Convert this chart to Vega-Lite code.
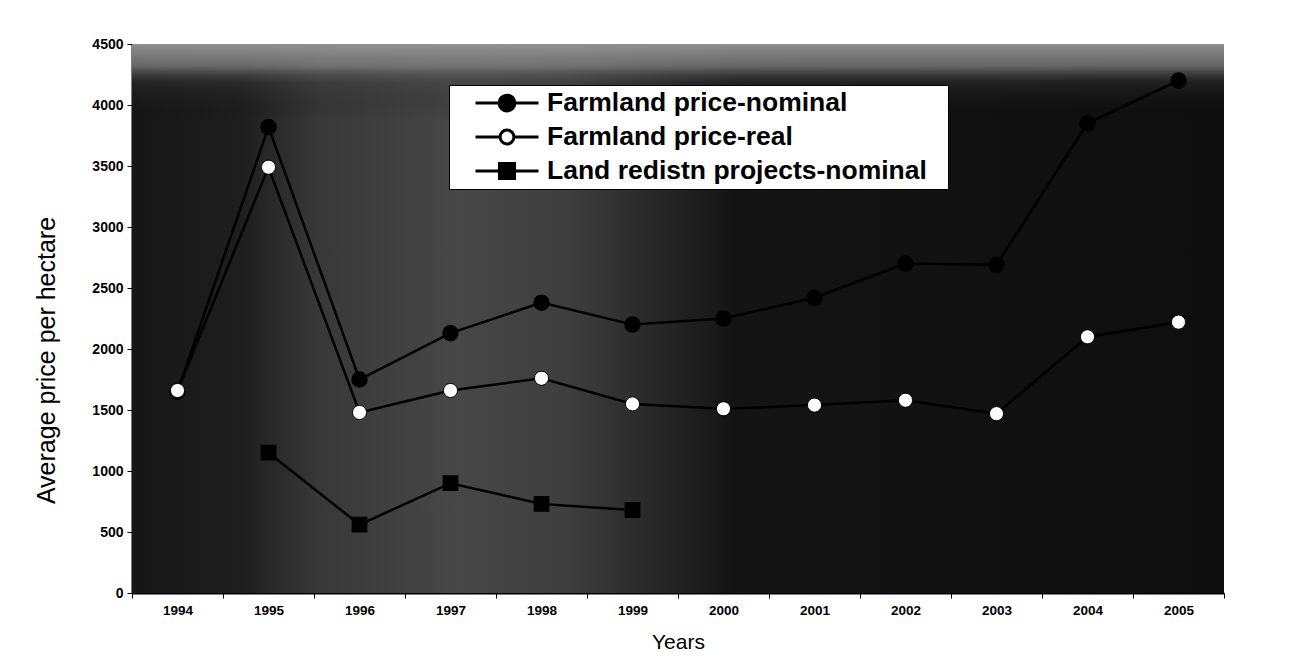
{
  "$schema": "https://vega.github.io/schema/vega-lite/v6.json",
  "width": 1092,
  "height": 549,
  "autosize": {"type": "none"},
  "padding": {"left": 132, "top": 44, "right": 78, "bottom": 73},
  "background": "white",
  "config": {"view": {"stroke": null}, "font": "Liberation Sans"},
  "data": {
    "values": [
      {"year": "1994", "series": "Farmland price-nominal", "value": 1650},
      {"year": "1995", "series": "Farmland price-nominal", "value": 3820},
      {"year": "1996", "series": "Farmland price-nominal", "value": 1750},
      {"year": "1997", "series": "Farmland price-nominal", "value": 2130},
      {"year": "1998", "series": "Farmland price-nominal", "value": 2380},
      {"year": "1999", "series": "Farmland price-nominal", "value": 2200},
      {"year": "2000", "series": "Farmland price-nominal", "value": 2250},
      {"year": "2001", "series": "Farmland price-nominal", "value": 2420},
      {"year": "2002", "series": "Farmland price-nominal", "value": 2700},
      {"year": "2003", "series": "Farmland price-nominal", "value": 2690},
      {"year": "2004", "series": "Farmland price-nominal", "value": 3850},
      {"year": "2005", "series": "Farmland price-nominal", "value": 4200},
      {"year": "1994", "series": "Farmland price-real", "value": 1660},
      {"year": "1995", "series": "Farmland price-real", "value": 3490},
      {"year": "1996", "series": "Farmland price-real", "value": 1480},
      {"year": "1997", "series": "Farmland price-real", "value": 1660},
      {"year": "1998", "series": "Farmland price-real", "value": 1760},
      {"year": "1999", "series": "Farmland price-real", "value": 1550},
      {"year": "2000", "series": "Farmland price-real", "value": 1510},
      {"year": "2001", "series": "Farmland price-real", "value": 1540},
      {"year": "2002", "series": "Farmland price-real", "value": 1580},
      {"year": "2003", "series": "Farmland price-real", "value": 1470},
      {"year": "2004", "series": "Farmland price-real", "value": 2100},
      {"year": "2005", "series": "Farmland price-real", "value": 2220},
      {"year": "1995", "series": "Land redistn projects-nominal", "value": 1150},
      {"year": "1996", "series": "Land redistn projects-nominal", "value": 560},
      {"year": "1997", "series": "Land redistn projects-nominal", "value": 900},
      {"year": "1998", "series": "Land redistn projects-nominal", "value": 730},
      {"year": "1999", "series": "Land redistn projects-nominal", "value": 680}
    ]
  },
  "layer": [
    {
      "data": {"values": [{}]},
      "mark": {
        "type": "rect",
        "fill": {
          "gradient": "linear", "x1": 0, "y1": 0, "x2": 1, "y2": 0,
          "stops": [
            {"offset": 0, "color": "#161616"},
            {"offset": 0.1, "color": "#1e1e1e"},
            {"offset": 0.17, "color": "#383838"},
            {"offset": 0.3, "color": "#474747"},
            {"offset": 0.4, "color": "#3e3e3e"},
            {"offset": 0.47, "color": "#2a2a2a"},
            {"offset": 0.55, "color": "#141414"},
            {"offset": 1, "color": "#0e0e0e"}
          ]
        }
      },
      "encoding": {
        "y": {"datum": 4500, "type": "quantitative"},
        "y2": {"datum": 0}
      }
    },
    {
      "data": {"values": [{}]},
      "mark": {
        "type": "rect",
        "fill": {
          "gradient": "linear", "x1": 0, "y1": 0, "x2": 0, "y2": 1,
          "stops": [
            {"offset": 0, "color": "rgba(150,150,150,0.95)"},
            {"offset": 0.04, "color": "rgba(130,130,130,0.75)"},
            {"offset": 0.07, "color": "rgba(70,70,70,0.3)"},
            {"offset": 0.14, "color": "rgba(0,0,0,0)"},
            {"offset": 1, "color": "rgba(0,0,0,0)"}
          ]
        }
      },
      "encoding": {
        "y": {"datum": 4500, "type": "quantitative"},
        "y2": {"datum": 0}
      }
    },
    {
      "mark": {"type": "line", "color": "black", "strokeWidth": 2.5},
      "encoding": {
        "x": {
          "field": "year", "type": "ordinal",
          "scale": {"type": "band", "paddingInner": 0, "paddingOuter": 0},
          "axis": {
            "title": "Years", "labelAngle": 0, "tickBand": "extent",
            "domainColor": "black", "domainWidth": 2, "tickColor": "black", "tickSize": 5,
            "labelFontSize": 13.5, "labelFontWeight": "bold", "labelColor": "black", "labelPadding": 5,
            "titleFontSize": 21, "titleFontWeight": "normal", "titleColor": "black", "titlePadding": 15
          }
        },
        "y": {
          "field": "value", "type": "quantitative",
          "scale": {"domain": [0, 4500], "nice": false, "zero": true},
          "axis": {
            "title": "Average price per hectare", "format": "d",
            "values": [0, 500, 1000, 1500, 2000, 2500, 3000, 3500, 4000, 4500],
            "grid": false, "domainColor": "black", "domainWidth": 2,
            "tickColor": "black", "tickSize": 5,
            "labelFontSize": 14, "labelFontWeight": "bold", "labelColor": "black", "labelPadding": 4,
            "titleFontSize": 25, "titleFontWeight": "normal", "titleColor": "black",
            "titleAngle": -90, "titleX": -78, "titleY": 316, "titleAlign": "center", "titleBaseline": "alphabetic"
          }
        },
        "detail": {"field": "series"}
      }
    },
    {
      "transform": [{"filter": "datum.series == 'Farmland price-nominal'"}],
      "mark": {"type": "point", "shape": "circle", "filled": true, "fill": "black", "stroke": "black", "size": 210, "opacity": 1},
      "encoding": {
        "x": {"field": "year", "type": "ordinal"},
        "y": {"field": "value", "type": "quantitative"}
      }
    },
    {
      "transform": [{"filter": "datum.series == 'Land redistn projects-nominal'"}],
      "mark": {"type": "point", "shape": "square", "filled": true, "fill": "black", "stroke": "black", "size": 190, "opacity": 1},
      "encoding": {
        "x": {"field": "year", "type": "ordinal"},
        "y": {"field": "value", "type": "quantitative"}
      }
    },
    {
      "transform": [{"filter": "datum.series == 'Farmland price-real'"}],
      "mark": {"type": "point", "shape": "circle", "filled": true, "fill": "white", "stroke": "black", "strokeWidth": 1, "size": 200, "opacity": 1},
      "encoding": {
        "x": {"field": "year", "type": "ordinal"},
        "y": {"field": "value", "type": "quantitative"}
      }
    },
    {
      "mark": {"type": "point", "filled": true, "opacity": 0},
      "encoding": {
        "x": {"field": "year", "type": "ordinal"},
        "y": {"field": "value", "type": "quantitative"},
        "shape": {
          "field": "series", "type": "nominal",
          "scale": {
            "domain": ["Farmland price-nominal", "Farmland price-real", "Land redistn projects-nominal"],
            "range": [
              "M-1,0H-0.25M0.25,0H1M-0.25,0A0.25,0.25 0 1 1 0.25,0A0.25,0.25 0 1 1 -0.25,0Z",
              "M-1,0H-0.22M0.22,0H1M-0.22,0A0.22,0.22 0 1 1 0.22,0A0.22,0.22 0 1 1 -0.22,0Z",
              "M-1,0H-0.24M0.24,0H1M-0.24,-0.24H0.24V0.24H-0.24Z"
            ]
          },
          "legend": {
            "title": null, "orient": "none", "legendX": 317, "legendY": 41,
            "fillColor": "white", "strokeColor": "black", "padding": 1,
            "symbolSize": 3969, "symbolStrokeWidth": 3, "symbolOpacity": 1,
            "symbolOffset": 24, "labelOffset": 7, "clipHeight": 34, "rowPadding": 0,
            "labelFont": "Liberation Sans", "labelFontSize": 26.5, "labelFontWeight": "bold",
            "labelColor": "black", "labelLimit": 1000,
            "labelExpr": "datum.label + '\u2800'"
          }
        },
        "fill": {
          "field": "series", "type": "nominal",
          "scale": {
            "domain": ["Farmland price-nominal", "Farmland price-real", "Land redistn projects-nominal"],
            "range": ["black", "white", "black"]
          },
          "legend": {
            "title": null, "orient": "none", "legendX": 317, "legendY": 41,
            "fillColor": "white", "strokeColor": "black", "padding": 1,
            "symbolSize": 3969, "symbolStrokeWidth": 3, "symbolOpacity": 1,
            "symbolOffset": 24, "labelOffset": 7, "clipHeight": 34, "rowPadding": 0,
            "labelFont": "Liberation Sans", "labelFontSize": 26.5, "labelFontWeight": "bold",
            "labelColor": "black", "labelLimit": 1000,
            "labelExpr": "datum.label + '\u2800'"
          }
        },
        "stroke": {
          "field": "series", "type": "nominal",
          "scale": {
            "domain": ["Farmland price-nominal", "Farmland price-real", "Land redistn projects-nominal"],
            "range": ["black", "black", "black"]
          },
          "legend": {
            "title": null, "orient": "none", "legendX": 317, "legendY": 41,
            "fillColor": "white", "strokeColor": "black", "padding": 1,
            "symbolSize": 3969, "symbolStrokeWidth": 3, "symbolOpacity": 1,
            "symbolOffset": 24, "labelOffset": 7, "clipHeight": 34, "rowPadding": 0,
            "labelFont": "Liberation Sans", "labelFontSize": 26.5, "labelFontWeight": "bold",
            "labelColor": "black", "labelLimit": 1000,
            "labelExpr": "datum.label + '\u2800'"
          }
        }
      }
    }
  ]
}
